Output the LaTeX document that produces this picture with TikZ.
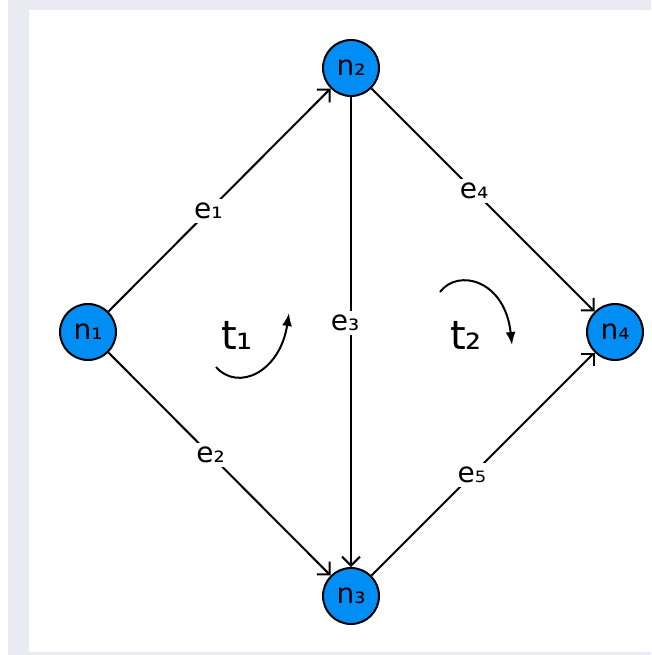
\documentclass[tikz,border=0pt]{standalone}
\usepackage{fontspec}
\setmainfont{DejaVu Sans}
\usepackage{tikz}
\usetikzlibrary{arrows.meta, positioning}
\definecolor{gBlue}{RGB}{0,142,245}
\definecolor{gLavender}{RGB}{234,234,242}

\begin{document}
\begin{tikzpicture}[
    x=1pt, y=-1pt, font=\fontsize{28}{30}\selectfont,
    vertex/.style={circle, draw=black, line width=2pt, fill=gBlue,
                   minimum size=56pt, inner sep=0pt},
    edge/.style={line width=2pt, -{Straight Barb[length=9pt,width=18pt]}},
    elabel/.style={fill=white, inner sep=4pt},
    turn/.style={line width=2pt, -{Latex[length=13pt,width=10pt]}}
]
\useasboundingbox (0,0) rectangle (651,655);
% Background
\fill[white] (0,0) rectangle (651,655);
\fill[gLavender] (8,0) rectangle (651,655);
\fill[white] (29,10) rectangle (651,651.5);

% Vertices
\node[vertex] (n1) at (88,332) {n₁};
\node[vertex] (n2) at (351,68) {n₂};
\node[vertex] (n3) at (351,596) {n₃};
\node[vertex] (n4) at (615,332) {n₄};

% Edges
\draw[edge] (n1) -- node[elabel, pos=0.45] {e₁} (n2);
\draw[edge] (n1) -- node[elabel, pos=0.46] {e₂} (n3);
\draw[edge] (n2) -- node[elabel, pos=0.48, xshift=-6pt] {e₃} (n3);
\draw[edge] (n2) -- node[elabel, pos=0.46] {e₄} (n4);
\draw[edge] (n3) -- node[elabel, pos=0.45] {e₅} (n4);

% Faces and their orientation
\node[font=\fontsize{40}{42}\selectfont] (t1) at (237,335) {t₁};
\node[font=\fontsize{40}{42}\selectfont] (t2) at (466,335) {t₂};
\draw[turn] (216,367) .. controls (238,392) and (280,372) .. (289,313);
\draw[turn] (440,292) .. controls (458,268) and (505,280) .. (512,345);
\end{tikzpicture}
\end{document}
